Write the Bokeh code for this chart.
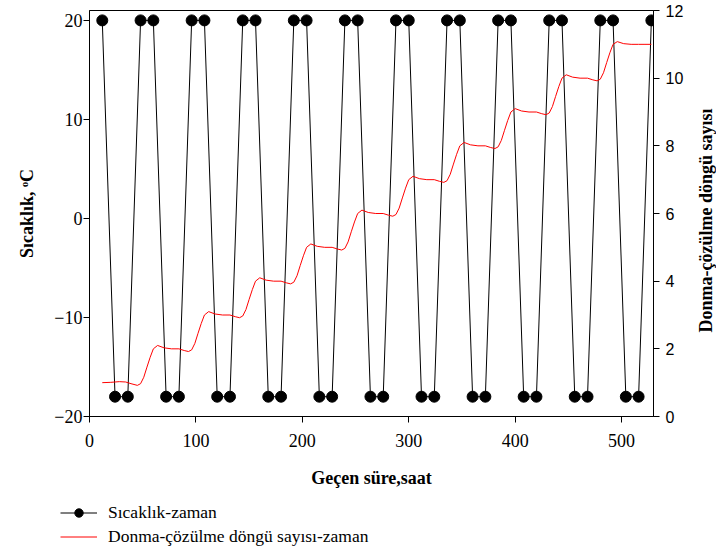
import math
from bokeh.plotting import figure
from bokeh.layouts import row, column
from bokeh.models import Range1d, LinearAxis, FixedTicker, Legend, LegendItem, Label
from bokeh.embed import file_html
from bokeh.resources import INLINE

# ---- data ----
time_h = [12, 24, 36, 48, 60, 72, 84, 96, 108, 120, 132, 144, 156, 168, 180, 192,
          204, 216, 228, 240, 252, 264, 276, 288, 300, 312, 324, 336, 348, 360, 372,
          384, 396, 408, 420, 432, 444, 456, 468, 480, 492, 504, 516, 528]
temp_c = [20, -18, -18, 20, 20, -18, -18, 20, 20, -18, -18, 20, 20, -18, -18, 20,
          20, -18, -18, 20, 20, -18, -18, 20, 20, -18, -18, 20, 20, -18, -18,
          20, 20, -18, -18, 20, 20, -18, -18, 20, 20, -18, -18, 20]

cyc_t = [12, 20, 28, 34, 39, 45,
         48, 51, 54, 57, 60, 64, 70, 77, 84, 89, 93,
         96, 99, 102, 105, 108, 112, 118, 125, 132, 137, 141,
         144, 147, 150, 153, 156, 160, 166, 173, 180, 185, 189,
         192, 195, 198, 201, 204, 208, 214, 221, 228, 233, 237,
         240, 243, 246, 249, 252, 256, 262, 269, 276, 281, 285,
         288, 291, 294, 297, 300, 304, 310, 317, 324, 329, 333,
         336, 339, 342, 345, 348, 352, 358, 365, 372, 377, 381,
         384, 387, 390, 393, 396, 400, 406, 413, 420, 425, 429,
         432, 435, 438, 441, 444, 448, 454, 461, 468, 473, 477,
         480, 483, 486, 489, 492, 496, 502, 509, 516, 522, 528]
cyc_n = [1.00, 1.01, 1.03, 1.02, 0.97, 0.92,
         0.97, 1.16, 1.46, 1.75, 2.00, 2.10, 2.03, 2.00, 2.00, 1.95, 1.92,
         1.97, 2.16, 2.46, 2.75, 3.00, 3.10, 3.03, 3.00, 3.00, 2.95, 2.92,
         2.97, 3.16, 3.46, 3.75, 4.00, 4.10, 4.03, 4.00, 4.00, 3.95, 3.92,
         3.97, 4.16, 4.46, 4.75, 5.00, 5.10, 5.03, 5.00, 5.00, 4.95, 4.92,
         4.97, 5.16, 5.46, 5.75, 6.00, 6.10, 6.03, 6.00, 6.00, 5.95, 5.92,
         5.97, 6.16, 6.46, 6.75, 7.00, 7.10, 7.03, 7.00, 7.00, 6.95, 6.92,
         6.97, 7.16, 7.46, 7.75, 8.00, 8.10, 8.03, 8.00, 8.00, 7.95, 7.92,
         7.97, 8.16, 8.46, 8.75, 9.00, 9.10, 9.03, 9.00, 9.00, 8.95, 8.92,
         8.97, 9.16, 9.46, 9.75, 10.00, 10.10, 10.03, 10.00, 10.00, 9.95, 9.92,
         9.97, 10.16, 10.46, 10.75, 11.00, 11.08, 11.02, 11.00, 11.00, 11.00, 11.00]

x_ticks = [0, 100, 200, 300, 400, 500]
temp_ticks = [-20, -10, 0, 10, 20]
cycle_ticks = [0, 2, 4, 6, 8, 10, 12]

x_label = "Geçen süre,saat"
temp_label = "Sıcaklık, ᵒC"
cycle_label = "Donma-çözülme döngü sayısı"
temp_series = "Sıcaklık-zaman"
cycle_series = "Donma-çözülme döngü sayısı-zaman"

SERIF = "Liberation Serif"
SANS = "Liberation Sans"

fig = figure(width=696, height=500, output_backend="svg", toolbar_location=None,
             x_range=Range1d(0, 530), y_range=Range1d(-20, 21.0),
             min_border_left=89, min_border_right=43, min_border_top=10,
             min_border_bottom=84)
fig.extra_y_ranges = {"cyc": Range1d(0, 12)}
fig.xgrid.visible = False
fig.ygrid.visible = False
fig.outline_line_color = "black"
fig.outline_line_width = 1
fig.background_fill_color = "white"
fig.border_fill_color = "white"

fig.line(time_h, temp_c, line_color="black", line_width=1)
fig.scatter(time_h, temp_c, size=11, fill_color="black", line_color="black")
fig.line(cyc_t, cyc_n, line_color="#ff0000", line_width=1, y_range_name="cyc")

def style_axis(ax, font, size):
    ax.axis_line_color = "black"
    ax.axis_line_width = 1
    ax.major_tick_line_color = "black"
    ax.major_tick_in = 0
    ax.major_tick_out = 6
    ax.minor_tick_line_color = None
    ax.major_label_text_font = font
    ax.major_label_text_font_size = size
    ax.major_label_text_color = "black"
    ax.axis_label_text_font = SERIF
    ax.axis_label_text_font_style = "bold"
    ax.axis_label_text_font_size = "18px"
    ax.axis_label_text_color = "black"

xa = fig.xaxis[0]
xa.ticker = FixedTicker(ticks=x_ticks)
xa.axis_label = x_label
style_axis(xa, SERIF, "18px")
xa.major_label_standoff = 11
xa.axis_label_standoff = 18

ya = fig.yaxis[0]
ya.ticker = FixedTicker(ticks=temp_ticks)
ya.axis_label = temp_label
style_axis(ya, SERIF, "18px")
ya.major_label_standoff = 1
ya.axis_label_standoff = 14

ra = LinearAxis(y_range_name="cyc", ticker=FixedTicker(ticks=cycle_ticks))
style_axis(ra, SANS, "16px")
ra.major_label_standoff = 6
fig.add_layout(ra, "right")

# narrow strip carrying the right-hand axis title (reads bottom-to-top)
side = figure(width=20, height=500, output_backend="svg", toolbar_location=None,
              x_range=Range1d(0, 1), y_range=Range1d(0, 1),
              min_border=0, outline_line_color=None)
side.axis.visible = False
side.grid.visible = False
side.add_layout(Label(x=9, y=196, x_units="screen", y_units="screen",
                      text=cycle_label, angle=math.pi / 2,
                      text_align="center", text_baseline="middle",
                      text_font=SERIF, text_font_style="bold",
                      text_font_size="18px", text_color="black"))

# strip below the chart carrying the legend (its series lie outside its view)
leg = figure(width=716, height=50, output_backend="svg", toolbar_location=None,
             x_range=Range1d(-2000, -1000), y_range=Range1d(-2000, -1000),
             min_border=0, outline_line_color=None)
leg.axis.visible = False
leg.grid.visible = False
k_line = leg.line(time_h, temp_c, line_color="black", line_width=1)
k_pts = leg.scatter(time_h, temp_c, size=11, fill_color="black", line_color="black")
k_cyc = leg.line(cyc_t, cyc_n, line_color="#ff0000", line_width=1)
legend = Legend(items=[LegendItem(label=temp_series, renderers=[k_line, k_pts]),
                       LegendItem(label=cycle_series, renderers=[k_cyc])],
                location=(60, 3), orientation="vertical",
                padding=0, margin=0, spacing=3, glyph_width=37, glyph_height=21,
                label_standoff=11, label_text_font=SERIF,
                label_text_font_size="17.5px", label_text_color="black",
                border_line_color=None, background_fill_alpha=0)
leg.add_layout(legend, "center")

p = column(row(fig, side), leg)
open("out.html", "w").write(file_html(p, INLINE))
